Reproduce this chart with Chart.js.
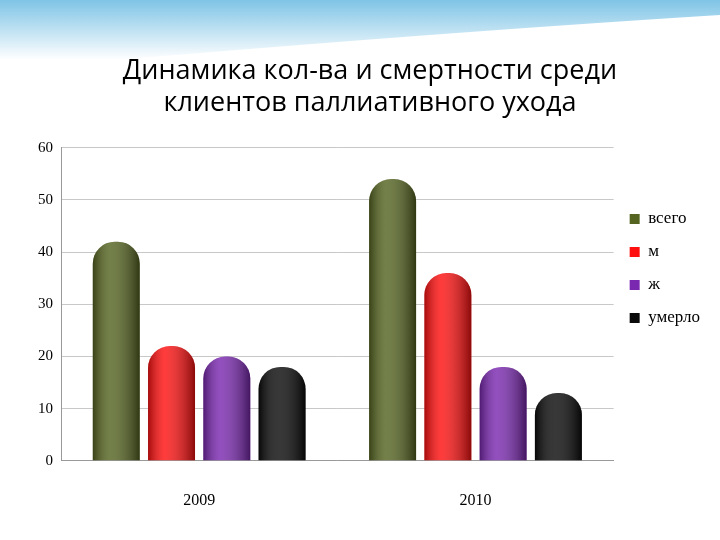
<!DOCTYPE html>
<html><head><meta charset="utf-8">
<script src="https://cdn.jsdelivr.net/npm/chart.js@4"></script>
<style>
body{margin:0;background:#fff;}
#wrap{width:720px;height:540px;position:relative;}
</style></head>
<body><div id="wrap"><canvas id="c" width="720" height="540"></canvas></div>
<script>
let years = ["2009", "2010"];
let seriesNames = ["всего", "м", "ж", "умерло"];
let vsego = [42, 54];
let m = [22, 36];
let zh = [20, 18];
let umerlo = [18, 13];
let colors = ["#556420", "#ff1010", "#7a28b0", "#0a0a0a"];

let dataArr = [vsego, m, zh, umerlo];
let datasets = seriesNames.map((n, i) => ({
    label: n,
    data: dataArr[i],
    backgroundColor: colors[i],
    borderRadius: { topLeft: 22, topRight: 22 },
    borderSkipped: "bottom",
    barPercentage: 0.85,
    categoryPercentage: 0.8
}));

// cylinder shading over each bar
const shade = {
    id: "shade",
    afterDatasetsDraw(chart) {
        let c = chart.ctx;
        chart.data.datasets.forEach((ds, i) => {
            chart.getDatasetMeta(i).data.forEach((bar) => {
                let w = bar.width, x0 = bar.x - w / 2;
                let g = c.createLinearGradient(x0, 0, x0 + w, 0);
                g.addColorStop(0, "rgba(0,0,0,0.35)");
                g.addColorStop(0.35, "rgba(255,255,255,0.18)");
                g.addColorStop(1, "rgba(0,0,0,0.45)");
                c.save();
                c.fillStyle = g;
                c.beginPath();
                c.roundRect(x0, bar.y, w, bar.base - bar.y, [22, 22, 0, 0]);
                c.fill();
                c.restore();
            });
        });
    }
};

const bg = {
    id: "bg",
    beforeDraw(chart) {
        let c = chart.ctx;
        c.save();
        let g = c.createLinearGradient(0, 0, 0, 60);
        g.addColorStop(0, "#7fc4e6");
        g.addColorStop(1, "#ffffff");
        c.fillStyle = g;
        c.beginPath();
        c.moveTo(0, 0); c.lineTo(720, 0); c.lineTo(720, 15);
        c.quadraticCurveTo(400, 35, 0, 70); c.closePath();
        c.fill();
        c.restore();
    }
};

new Chart(document.getElementById("c"), {
    type: "bar",
    data: { labels: years, datasets: datasets },
    plugins: [bg, shade],
    options: {
        responsive: false,
        animation: false,
        layout: { padding: { left: 30, right: 10, top: 5, bottom: 8 } },
        plugins: {
            title: {
                display: true,
                text: ["Динамика кол-ва и смертности среди", "клиентов паллиативного ухода"],
                color: "#000",
                font: { family: "Open Sans", size: 27, weight: "normal" },
                padding: { top: 50, bottom: 28 },
                lineHeight: 1.5
            },
            legend: {
                position: "right",
                labels: {
                    color: "#000",
                    font: { family: "Liberation Serif", size: 17 },
                    boxWidth: 10, boxHeight: 10, padding: 16,
                    generateLabels: (chart) => seriesNames.map((n, i) => ({
                        text: n, fillStyle: colors[i], strokeStyle: colors[i], lineWidth: 0, datasetIndex: i
                    }))
                }
            },
            tooltip: { enabled: false }
        },
        scales: {
            x: {
                grid: { display: false },
                border: { color: "#999" },
                ticks: { color: "#000", font: { family: "Liberation Serif", size: 16 }, padding: 22 }
            },
            y: {
                min: 0, max: 60,
                ticks: { stepSize: 10, color: "#000", font: { family: "Liberation Serif", size: 15 }, padding: 8 },
                grid: { color: "#c8c8c8", drawTicks: false },
                border: { color: "#999" }
            }
        }
    }
});
</script></body></html>
